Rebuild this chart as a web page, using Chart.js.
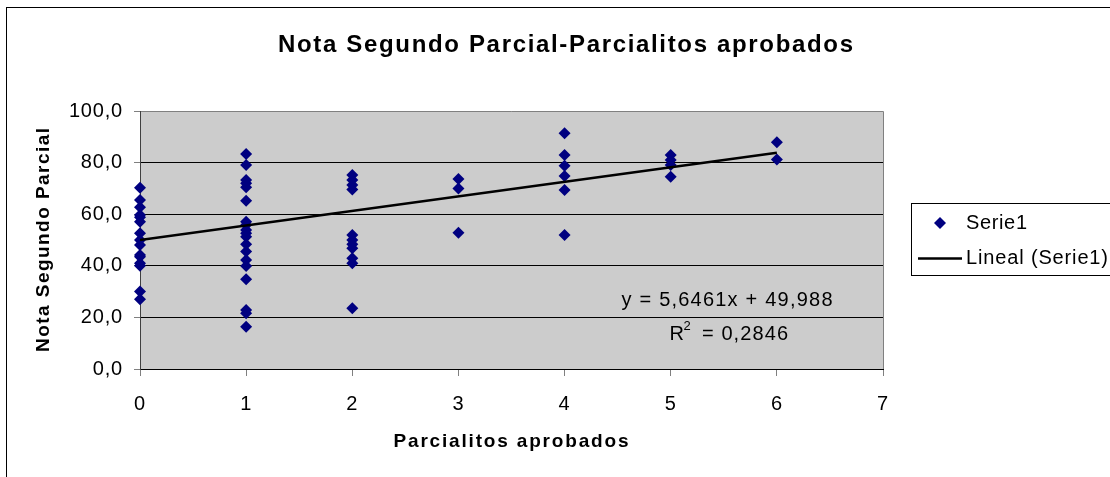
<!DOCTYPE html>
<html>
<head>
<meta charset="utf-8">
<script src="https://cdn.jsdelivr.net/npm/chart.js@4.4.1/dist/chart.umd.min.js"></script>
<style>
  html, body { margin: 0; padding: 0; background: #fff; }
  canvas { display: block; }
</style>
</head>
<body>
<canvas id="chart" width="1110" height="477"></canvas>
<script>
// Nota del segundo parcial por cantidad de parcialitos aprobados
const parcialitos = [0, 1, 2, 3, 4, 5, 6];
const notas0 = [70.3, 65.5, 62.7, 59.7, 58.8, 57.1, 52.6, 50.0, 48.1, 44.2, 43.5, 41.0, 40.0, 30.0, 27.0];
const notas1 = [83.3, 79.1, 73.3, 72.0, 70.4, 65.2, 57.1, 55.8, 53.9, 52.6, 51.3, 48.4, 45.5, 42.2, 39.9, 34.8, 22.9, 21.6, 16.4];
const notas2 = [75.2, 73.3, 71.3, 69.6, 51.9, 50.0, 48.4, 46.8, 42.9, 41.0, 23.5];
const notas3 = [73.6, 70.0, 52.8];
const notas4 = [91.4, 82.9, 78.8, 74.8, 69.4, 51.9];
const notas5 = [82.9, 81.0, 79.1, 74.5];
const notas6 = [87.9, 81.2];

const tendenciaX = [0, 6];
const tendenciaY = [49.99, 83.86];

const xTickLabels = ['0', '1', '2', '3', '4', '5', '6', '7'];
const yTickLabels = ['0,0', '20,0', '40,0', '60,0', '80,0', '100,0'];

const FONT = 'Arial, "Liberation Sans", sans-serif';
const NAVY = '#000080';
const PLOT_BG = '#cccccc';

const columnas = [notas0, notas1, notas2, notas3, notas4, notas5, notas6];
const puntos = [];
columnas.forEach((notas, i) => {
    notas.forEach(n => puntos.push({ x: parcialitos[i], y: n }));
});
const tendencia = tendenciaX.map((x, i) => ({ x: x, y: tendenciaY[i] }));

// Draw text stretched to a given width (the source chart has widened text)
function drawFitted(ctx, text, cx, cy, font, width) {
    ctx.font = font;
    ctx.letterSpacing = '0px';
    const natural = ctx.measureText(text).width;
    const spacing = (width - natural) / Math.max(text.length - 1, 1);
    ctx.letterSpacing = spacing + 'px';
    ctx.textAlign = 'left';
    ctx.textBaseline = 'middle';
    ctx.fillText(text, cx - width / 2, cy);
    ctx.letterSpacing = '0px';
}

const framePlugin = {
    id: 'frame',
    beforeDraw(chart) {
        const { ctx, chartArea: a } = chart;
        ctx.save();
        ctx.fillStyle = '#ffffff';
        ctx.fillRect(0, 0, chart.width, chart.height);
        ctx.strokeStyle = '#000000';
        ctx.lineWidth = 1;
        ctx.strokeRect(6.5, 7.5, chart.width + 20, chart.height + 20);
        ctx.fillStyle = PLOT_BG;
        ctx.fillRect(a.left, a.top, a.right - a.left, a.bottom - a.top);
        ctx.strokeStyle = '#808080';
        ctx.beginPath();
        ctx.moveTo(a.left, a.top + 0.5);
        ctx.lineTo(a.right + 0.5, a.top + 0.5);
        ctx.lineTo(a.right + 0.5, a.bottom);
        ctx.stroke();
        ctx.restore();
        // tick labels are a bit wider in the source
        ctx.letterSpacing = '0.8px';
    },
    beforeDatasetsDraw(chart) {
        chart.ctx.letterSpacing = '0px';
    },
    afterDraw(chart) {
        const ctx = chart.ctx;
        ctx.save();
        ctx.fillStyle = '#000000';

        // titles
        drawFitted(ctx, 'Nota Segundo Parcial-Parcialitos aprobados', 565.5, 45, 'bold 24px ' + FONT, 575);
        drawFitted(ctx, 'Parcialitos aprobados', 511, 442, 'bold 19px ' + FONT, 235);
        ctx.save();
        ctx.translate(44, 240);
        ctx.rotate(-Math.PI / 2);
        drawFitted(ctx, 'Nota Segundo Parcial', 0, 0, 'bold 19px ' + FONT, 224);
        ctx.restore();

        // trendline equation
        drawFitted(ctx, 'y = 5,6461x + 49,988', 727, 300, '20px ' + FONT, 211);
        drawFitted(ctx, 'R', 676, 334, '20px ' + FONT, 13);
        drawFitted(ctx, '2', 687, 326, '13px ' + FONT, 7);
        drawFitted(ctx, '= 0,2846', 745, 334, '20px ' + FONT, 86);

        // legend
        ctx.strokeStyle = '#000000';
        ctx.lineWidth = 1;
        ctx.strokeRect(911.5, 203.5, 230, 72);
        ctx.fillStyle = NAVY;
        ctx.beginPath();
        ctx.moveTo(940, 217);
        ctx.lineTo(946, 223);
        ctx.lineTo(940, 229);
        ctx.lineTo(934, 223);
        ctx.closePath();
        ctx.fill();
        ctx.strokeStyle = '#000000';
        ctx.lineWidth = 2.5;
        ctx.beginPath();
        ctx.moveTo(918, 258.5);
        ctx.lineTo(962, 258.5);
        ctx.stroke();
        ctx.fillStyle = '#000000';
        drawFitted(ctx, 'Serie1', 996.5, 223, '20px ' + FONT, 61);
        drawFitted(ctx, 'Lineal (Serie1)', 1037, 258, '20px ' + FONT, 142);
        ctx.restore();
    }
};

const ctx = document.getElementById('chart').getContext('2d');
new Chart(ctx, {
    type: 'scatter',
    data: {
        datasets: [
            {
                label: 'Lineal (Serie1)',
                data: tendencia,
                showLine: true,
                borderColor: '#000000',
                borderWidth: 2.5,
                pointRadius: 0,
                order: 0,
            },
            {
                label: 'Serie1',
                data: puntos,
                pointStyle: 'rectRot',
                pointRadius: 6,
                pointHoverRadius: 6,
                backgroundColor: NAVY,
                borderColor: NAVY,
                borderWidth: 0,
                clip: false,
                order: 1,
            }
        ]
    },
    options: {
        responsive: false,
        animation: false,
        events: [],
        layout: {
            padding: { top: 111, right: 227, left: 0, bottom: 0 }
        },
        plugins: {
            legend: { display: false },
            title: { display: false },
            tooltip: { enabled: false },
        },
        scales: {
            x: {
                type: 'linear',
                min: 0,
                max: 7,
                afterFit: (scale) => { scale.height = 108; },
                afterBuildTicks: (scale) => {
                    scale.ticks = xTickLabels.map((_, i) => ({ value: i }));
                },
                ticks: {
                    stepSize: 1,
                    color: '#000000',
                    font: { family: FONT, size: 20 },
                    padding: 16,
                    callback: (v) => xTickLabels[v],
                },
                grid: {
                    drawOnChartArea: false,
                    drawTicks: true,
                    tickLength: 7,
                    tickColor: '#808080',
                },
                border: { color: '#000000', width: 1 },
            },
            y: {
                min: 0,
                max: 100,
                afterFit: (scale) => { scale.width = 140; },
                afterBuildTicks: (scale) => {
                    scale.ticks = yTickLabels.map((_, i) => ({ value: i * 20 }));
                },
                ticks: {
                    stepSize: 20,
                    color: '#000000',
                    font: { family: FONT, size: 20 },
                    padding: 11,
                    callback: (v) => yTickLabels[Math.round(v / 20)],
                },
                grid: {
                    color: (c) => (c.tick && c.tick.value > 0 && c.tick.value < 100) ? '#000000' : 'rgba(0,0,0,0)',
                    lineWidth: 1,
                    drawTicks: true,
                    tickLength: 6,
                    tickColor: '#808080',
                },
                border: { color: '#404040', width: 1 },
            }
        }
    },
    plugins: [framePlugin]
});
</script>
</body>
</html>
